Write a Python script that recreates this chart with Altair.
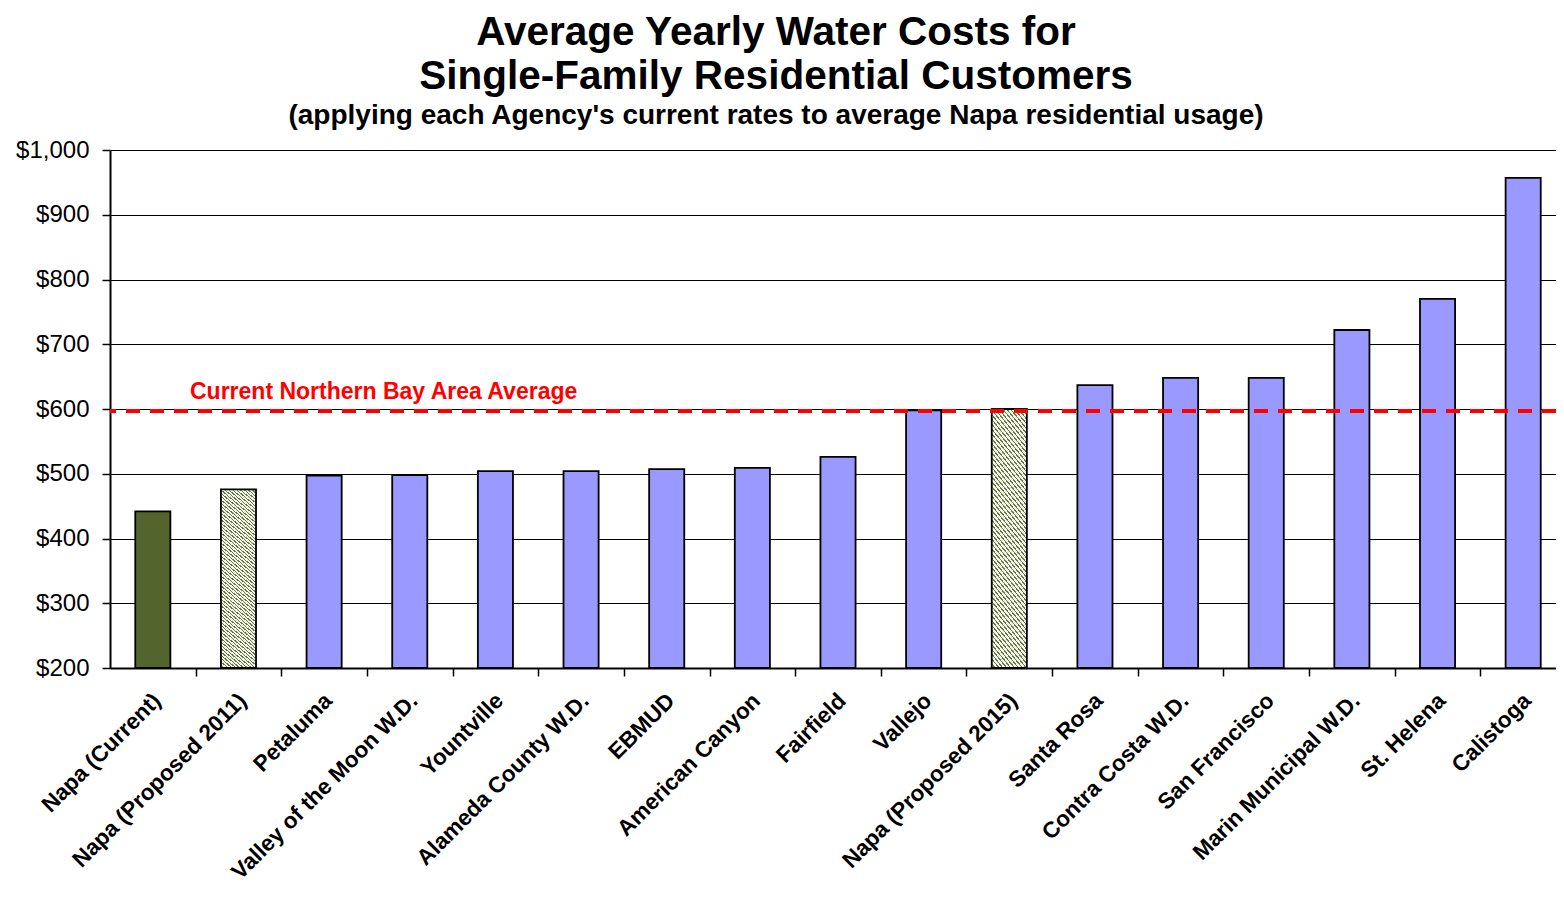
import altair as alt
import pandas as pd

# ---------------- data ----------------
categories = [
    "Napa (Current)", "Napa (Proposed 2011)", "Petaluma", "Valley of the Moon W.D.",
    "Yountville", "Alameda County W.D.", "EBMUD", "American Canyon", "Fairfield",
    "Vallejo", "Napa (Proposed 2015)", "Santa Rosa", "Contra Costa W.D.",
    "San Francisco", "Marin Municipal W.D.", "St. Helena", "Calistoga",
]
costs = [442, 476, 497, 498, 504, 504, 507, 509, 526, 598, 600, 637, 648, 648, 722, 770, 957]
groups = [
    "current", "proposed", "other", "other", "other", "other", "other", "other", "other",
    "other", "proposed", "other", "other", "other", "other", "other", "other",
]
average_value = 597
average_label = "Current Northern Bay Area Average"
y_tick_values = [200, 300, 400, 500, 600, 700, 800, 900, 1000]
title_lines = ["Average Yearly Water Costs for", "Single-Family Residential Customers"]
subtitle_text = "(applying each Agency's current rates to average Napa residential usage)"

df = pd.DataFrame({"agency": categories, "cost": costs, "group": groups})
avg_df = pd.DataFrame({"value": [average_value], "label": [average_label]})

# ---------------- style ----------------
FONT = "Liberation Sans"
BLUE = "#9999FF"
GREEN = "#53652C"
HATCH_DARK = "#6A7A42"
HATCH_LIGHT = "#F4F5EC"
RANGE_W = 1456
STEP = RANGE_W / len(categories)

# fine diagonal stripes to imitate the hatched fill
stops = []
pitch = 0.003
dark_part = 0.0011
t = 0.0
while t < 0.2:
    stops.append(alt.GradientStop(offset=round(t, 5), color=HATCH_DARK))
    stops.append(alt.GradientStop(offset=round(t + dark_part, 5), color=HATCH_DARK))
    stops.append(alt.GradientStop(offset=round(t + dark_part, 5), color=HATCH_LIGHT))
    stops.append(alt.GradientStop(offset=round(t + pitch, 5), color=HATCH_LIGHT))
    t += pitch
stops.append(alt.GradientStop(offset=1, color=HATCH_LIGHT))
hatch = alt.LinearGradient(gradient="linear", stops=stops, x1=1, y1=0, x2=0, y2=6)

x_enc = alt.X(
    "agency:N",
    sort=categories,
    scale=alt.Scale(domain=categories, paddingInner=0.59, paddingOuter=0.295, range=[0, RANGE_W]),
    axis=alt.Axis(
        title=None,
        labelAngle=-45,
        labelAlign="right",
        labelBaseline="top",
        labelFontSize=22.5,
        labelFontWeight="bold",
        labelFont=FONT,
        labelColor="black",
        labelPadding=13,
        tickOffset=STEP / 2,
        labelOffset=-STEP / 2 - 4,
        tickSize=8,
        tickColor="black",
        tickWidth=1.5,
        domainColor="black",
        domainWidth=2,
        grid=False,
        labelOverlap=False,
        labelLimit=500,
    ),
)
y_scale = alt.Scale(domain=[200, 1000], nice=False, zero=False)
y_enc = alt.Y(
    "cost:Q",
    scale=y_scale,
    axis=alt.Axis(
        title=None,
        values=y_tick_values,
        format="$,.0f",
        labelFontSize=24,
        labelFont=FONT,
        labelColor="black",
        labelPadding=13,
        tickSize=8,
        tickColor="black",
        tickWidth=1.5,
        domainColor="black",
        domainWidth=2,
        grid=True,
        gridColor="black",
        gridWidth=1.2,
    ),
)

base = alt.Chart(df)

bars = base.transform_filter(alt.datum.group != "proposed").mark_bar(
    stroke="black", strokeWidth=1.8
).encode(
    x=x_enc,
    y=y_enc,
    y2=alt.datum(200),
    fill=alt.Fill("group:N", scale=alt.Scale(domain=["current", "other"], range=[GREEN, BLUE]), legend=None),
)

hatched = base.transform_filter(alt.datum.group == "proposed").mark_bar(
    stroke="black", strokeWidth=1.8, fill=hatch
).encode(
    x=x_enc,
    y=y_enc,
    y2=alt.datum(200),
)

avg_rule = alt.Chart(avg_df).mark_rule(
    color="#FF0000", strokeWidth=4, strokeDash=[14, 10]
).encode(y=alt.Y("value:Q", scale=y_scale))

avg_text = alt.Chart(avg_df).mark_text(
    color="#FF0000", fontSize=23, fontWeight="bold", font=FONT,
    align="left", baseline="bottom", dy=-7,
).encode(
    x=alt.value(80),
    y=alt.Y("value:Q", scale=y_scale),
    text="label:N",
)

chart = alt.layer(bars, hatched, avg_rule, avg_text).properties(
    width=1446,
    height=518,
    autosize=alt.AutoSizeParams(type="none"),
    padding={"left": 102, "top": 142, "right": 0, "bottom": 220},
    title=alt.TitleParams(
        text=title_lines,
        subtitle=subtitle_text,
        font=FONT,
        fontSize=40.5,
        fontWeight="bold",
        lineHeight=44,
        color="black",
        subtitleFont=FONT,
        subtitleFontSize=28,
        subtitleFontWeight="bold",
        subtitleColor="black",
        subtitlePadding=5,
        anchor="middle",
        dx=-57,
        offset=8,
    ),
).configure_view(stroke=None)

chart.save("out.html", embed_options={"renderer": "svg", "actions": False})
